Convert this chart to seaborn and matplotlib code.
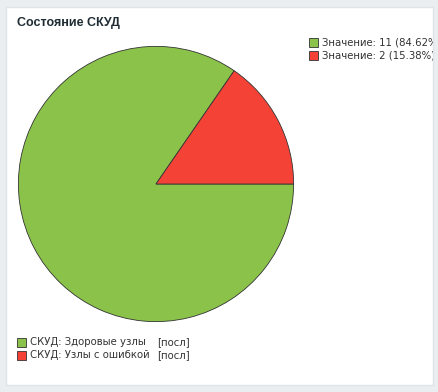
import matplotlib
matplotlib.use("Agg")
import matplotlib.pyplot as plt
from matplotlib.patches import Rectangle
import seaborn as sns

sns.set_theme(style="white")
plt.rcParams['font.family'] = ['DejaVu Sans']

title = "Состояние СКУД"
values = [11, 2]
colors = ["#8bc34a", "#f44336"]
value_labels = ["Значение: 11 (84.62%)", "Значение: 2 (15.38%)"]
item_names = ["СКУД: Здоровые узлы", "СКУД: Узлы с ошибкой"]
item_func = ["[посл]", "[посл]"]

W, H = 438, 392
fig = plt.figure(figsize=(W / 100, H / 100), dpi=100)
fig.patch.set_facecolor("#ebeef0")


def fx(px):
    return px / W


def fy(py):
    return 1 - py / H


# white panel
panel = fig.add_axes([fx(6), fy(385), fx(427), 378 / H])
panel.set_facecolor("white")
panel.set_xlim(6, 433)
panel.set_ylim(385, 6)
panel.set_xticks([])
panel.set_yticks([])
for s in panel.spines.values():
    s.set_color("#dfe4e7")
    s.set_linewidth(1)

panel.text(17, 22, title, fontsize=9, fontweight="bold", color="#1f2c33",
           family=["Liberation Sans", "DejaVu Sans"], va="center", ha="left")

# pie
ax = fig.add_axes([fx(17), fy(323), 278 / W, 278 / H])
ax.pie(values, colors=colors, startangle=0, counterclock=False, radius=1,
       wedgeprops=dict(edgecolor="#333333", linewidth=0.6))
ax.set_xlim(-1.01, 1.01)
ax.set_ylim(-1.01, 1.01)
ax.set_aspect("equal")
ax.axis("off")

# top-right legend
for i, (lab, c) in enumerate(zip(value_labels, colors)):
    y = 42 + 13 * i
    panel.add_patch(Rectangle((309, y - 4.5), 9, 9, facecolor=c,
                              edgecolor="#333333", linewidth=0.6))
    panel.text(322, y, lab, fontsize=7.3, color="#333333", va="center",
               ha="left", clip_on=True)

# bottom legend
for i, (name, fn, c) in enumerate(zip(item_names, item_func, colors)):
    y = 342 + 13 * i
    panel.add_patch(Rectangle((17, y - 4.5), 9, 9, facecolor=c,
                              edgecolor="#333333", linewidth=0.6))
    panel.text(30, y, name, fontsize=7.3, color="#333333", va="center", ha="left")
    panel.text(157, y, fn, fontsize=7.3, color="#333333", va="center", ha="left")

fig.savefig("out.png", dpi=100, facecolor=fig.get_facecolor())
